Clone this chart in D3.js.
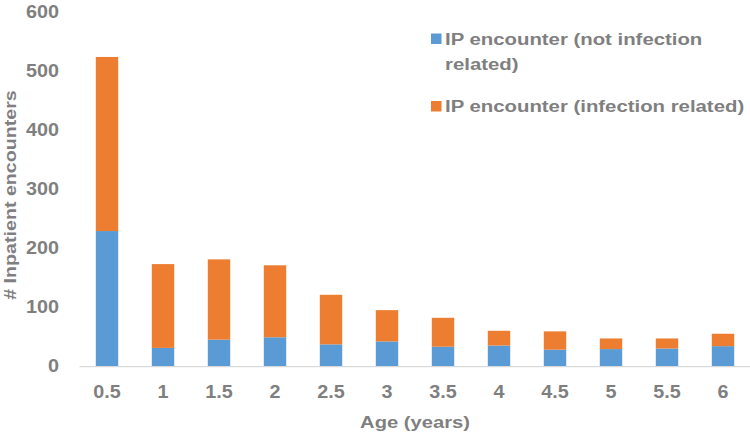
<!DOCTYPE html>
<html>
<head>
<meta charset="utf-8">
<script src="https://cdn.jsdelivr.net/npm/d3@7"></script>
<style>
  body { margin: 0; background: #fff; }
  text { font-family: "Liberation Sans", Arial, sans-serif; font-weight: bold; fill: #7f7f7f; font-size: 17.4px; }
  .tick text { font-size: 19px; }
</style>
</head>
<body>
<div id="chart"></div>
<script>
// data
const ages = ['0.5', '1', '1.5', '2', '2.5', '3', '3.5', '4', '4.5', '5', '5.5', '6'];
const notInfection = [229, 31, 45, 49, 37, 42, 33, 35, 28, 29, 30, 34];
const infection = [295, 142, 136, 122, 84, 53, 49, 25, 31, 18, 17, 21];
const yTicks = [0, 100, 200, 300, 400, 500, 600];
const seriesNames = ['IP encounter (not infection related)', 'IP encounter (infection related)'];
const colors = ['#5b9bd5', '#ed7d31'];

const width = 750, height = 434;
const margin = { top: 12, right: 0, bottom: 68, left: 79 };
// text in the original is drawn a little wide
const stretch = 'scale(1.16,1)';
const tickStretch = 'scale(1.04,1)';

const svg = d3.select('#chart')
  .append('svg')
  .attr('width', width)
  .attr('height', height);

const x = d3.scaleBand()
  .domain(ages)
  .range([margin.left, width - margin.right + 1])
  .paddingInner(0.6)
  .paddingOuter(0.3);

const y = d3.scaleLinear()
  .domain([0, 600])
  .range([height - margin.bottom + 0.2, margin.top + 0.1]);

// stack the two series
const rows = ages.map((a, i) => ({ age: a, s0: notInfection[i], s1: infection[i] }));
const stacked = d3.stack().keys(['s0', 's1'])(rows);

svg.append('g')
  .selectAll('g')
  .data(stacked)
  .join('g')
  .attr('fill', (d, i) => colors[i])
  .selectAll('rect')
  .data(d => d)
  .join('rect')
  .attr('x', d => x(d.data.age))
  .attr('y', d => y(d[1]))
  .attr('width', x.bandwidth())
  .attr('height', d => y(d[0]) - y(d[1]));

// x axis
const xAxis = svg.append('g')
  .attr('transform', `translate(0, ${y(0)})`)
  .call(d3.axisBottom(x).tickSize(0).tickPadding(18));
xAxis.attr('font-size', null).attr('font-family', null);
xAxis.select('.domain').attr('stroke', '#d9d9d9').attr('stroke-width', 1.3);
xAxis.selectAll('text').attr('fill', '#7f7f7f').attr('transform', tickStretch);

// y axis, labels only
const yAxis = svg.append('g')
  .attr('transform', `translate(${margin.left - 20}, -1)`)
  .call(d3.axisLeft(y).tickValues(yTicks).tickSize(0).tickPadding(0));
yAxis.select('.domain').remove();
yAxis.attr('font-size', null).attr('font-family', null);
yAxis.selectAll('text').attr('fill', '#7f7f7f').attr('transform', tickStretch);

// axis titles
svg.append('g')
  .attr('transform', 'translate(415, 428)')
  .append('text')
  .attr('text-anchor', 'middle')
  .attr('transform', stretch)
  .text('Age (years)');

svg.append('g')
  .attr('transform', 'translate(15.5, 195) rotate(-90)')
  .append('text')
  .attr('text-anchor', 'middle')
  .attr('transform', 'scale(1.13,1)')
  .text('# Inpatient encounters');

// legend
const legendItems = [
  { lines: ['IP encounter (not infection', 'related)'], y: 38.5 },
  { lines: ['IP encounter (infection related)'], y: 106 }
];
legendItems.forEach((item, i) => {
  svg.append('rect')
    .attr('x', 431)
    .attr('y', item.y - 5)
    .attr('width', 10.5)
    .attr('height', 10.5)
    .attr('fill', colors[i]);
  const t = svg.append('g')
    .attr('transform', `translate(445, ${item.y})`)
    .append('text')
    .attr('transform', 'scale(1.17,1)');
  item.lines.forEach((l, j) => {
    t.append('tspan')
      .attr('x', 0)
      .attr('dy', j === 0 ? '0.36em' : '25px')
      .text(l);
  });
});
</script>
</body>
</html>
